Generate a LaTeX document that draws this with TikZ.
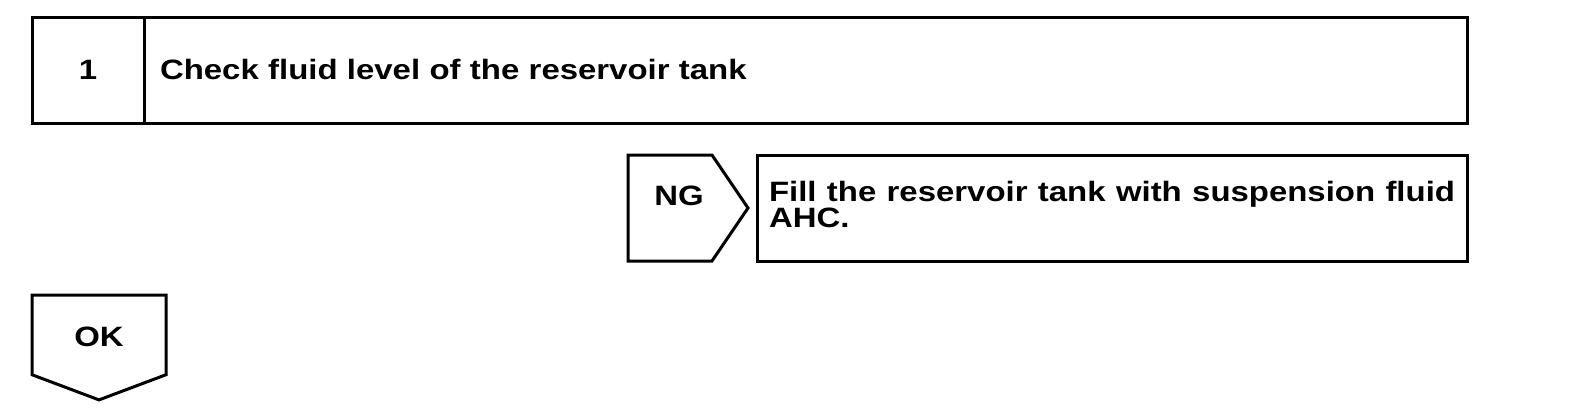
\documentclass[tikz,border=0pt]{standalone}
\usepackage{fontspec}
\newfontfamily\manualfont{Liberation Sans}[FakeStretch=1.176]
\usetikzlibrary{positioning,shapes.symbols}
\setlength{\lineskiplimit}{-10pt}
\setlength{\normallineskiplimit}{-10pt}

\begin{document}
\begin{tikzpicture}[x=0.5pt,y=-0.5pt,node distance=0pt,line width=1.5pt]
  \tikzstyle{txt}=[font=\manualfont\bfseries\fontsize{14}{13}\selectfont,
    text height=10pt,inner sep=0pt,outer sep=0pt]
  \tikzstyle{cell}=[txt,draw,minimum height=53pt]
  \tikzstyle{tag}=[txt,draw,shape=signal,minimum height=53pt]
  \useasboundingbox (0,0) rectangle (1584,412);
  % step 1
  \node[cell,anchor=north west,minimum width=56pt,text depth=1pt] (num) at (32,17) {1};
  \node[cell,right=of num,minimum width=661.5pt,text width=645.5pt,align=left,
    text depth=1pt] (chk) {Check fluid level of the reservoir tank};
  % NG branch
  \node[tag,anchor=north west,signal to=east,signal pointer angle=111.6,
    minimum width=60pt,text depth=12.5pt] (ng) at (628,155) {\hspace*{9pt}NG};
  \node[cell,right=4.5pt of ng,minimum width=355pt,text width=343pt,align=justify,
    text depth=17pt] (fix) {Fill the reservoir tank with suspension fluid AHC.};
  % OK branch
  \node[tag,anchor=north west,signal to=south,signal pointer angle=138.8,
    minimum width=67pt,minimum height=44.5pt,text height=22.5pt,text depth=10.5pt]
    (ok) at (32,295) {OK};
\end{tikzpicture}
\end{document}
